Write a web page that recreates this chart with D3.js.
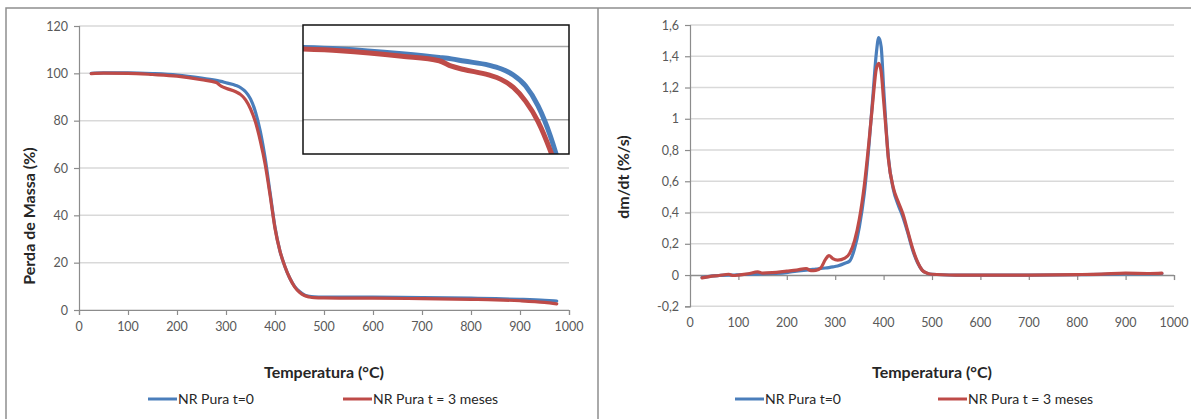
<!DOCTYPE html>
<html>
<head>
<meta charset="utf-8">
<script src="https://cdn.jsdelivr.net/npm/d3@7"></script>
<style>
  html, body { margin: 0; padding: 0; background: #fff; }
  svg { display: block; }
  text { font-family: Lato, "Open Sans", "DejaVu Sans", sans-serif; }
</style>
</head>
<body>
<svg id="chart" width="1191" height="419"></svg>
<script>
// ---- data ----
const seriesNames = ["NR Pura t=0", "NR Pura t = 3 meses"];
const seriesColors = ["#4a7ebb", "#be4b48"];

// Thermogravimetric curve (mass loss, %)
const tgaTemp  = [25, 50, 100, 150, 200, 250, 280, 290, 300, 320, 330, 340, 350, 360, 370, 380, 390, 400, 410, 420, 430, 440, 450, 460, 470, 480, 500, 600, 700, 800, 850, 900, 950, 975];
const tgaFresh = [100.0, 100.2, 100.2, 99.9, 99.3, 98.0, 97.0, 96.6, 96.0, 94.9, 93.9, 92.2, 89.2, 83.8, 75.5, 64.0, 49.5, 35.0, 25.0, 18.5, 13.5, 10.0, 7.8, 6.4, 5.8, 5.6, 5.5, 5.4, 5.2, 5.0, 4.8, 4.5, 4.1, 3.8];
const tgaAged  = [99.9, 100.1, 100.0, 99.5, 98.8, 97.3, 96.1, 94.6, 93.7, 92.2, 91.0, 88.8, 85.0, 79.5, 71.5, 61.5, 48.5, 34.5, 25.0, 18.5, 13.5, 9.8, 7.5, 6.1, 5.5, 5.2, 5.1, 5.0, 4.8, 4.5, 4.3, 3.9, 3.2, 2.6];

// Derivative curve (dm/dt, %/s)
const dtgTemp  = [25, 40, 60, 80, 90, 100, 120, 140, 150, 170, 200, 220, 240, 250, 260, 270, 280, 287, 295, 305, 320, 330, 340, 350, 360, 370, 378, 385, 390, 395, 400, 405, 410, 420, 430, 440, 450, 460, 470, 480, 490, 500, 550, 600, 700, 800, 850, 900, 950, 975];
const dtgFresh = [-0.015, -0.008, -0.003, 0.0, 0.0, 0.002, 0.004, 0.006, 0.007, 0.010, 0.016, 0.025, 0.032, 0.035, 0.038, 0.042, 0.045, 0.048, 0.052, 0.058, 0.075, 0.090, 0.170, 0.310, 0.520, 0.840, 1.150, 1.420, 1.520, 1.460, 1.200, 0.950, 0.750, 0.550, 0.450, 0.370, 0.270, 0.160, 0.080, 0.030, 0.012, 0.005, 0.0, -0.001, 0.0, 0.002, 0.004, 0.008, 0.008, 0.010];
const dtgAged  = [-0.018, -0.010, -0.003, 0.005, -0.003, 0.0, 0.008, 0.020, 0.012, 0.015, 0.025, 0.032, 0.042, 0.028, 0.030, 0.045, 0.100, 0.125, 0.105, 0.095, 0.108, 0.140, 0.220, 0.360, 0.570, 0.860, 1.120, 1.320, 1.355, 1.300, 1.120, 0.930, 0.740, 0.560, 0.470, 0.390, 0.280, 0.170, 0.085, 0.030, 0.012, 0.005, 0.0, -0.001, 0.0, 0.003, 0.006, 0.012, 0.010, 0.012];

const tempTicks = [0, 100, 200, 300, 400, 500, 600, 700, 800, 900, 1000];
const massTicks = [0, 20, 40, 60, 80, 100, 120];
const rateTicks = [-0.2, 0, 0.2, 0.4, 0.6, 0.8, 1, 1.2, 1.4, 1.6];
const insetTicks = [80, 100];

const axisTitleX = "Temperatura (°C)";
const massTitle = "Perda de Massa (%)";
const rateTitle = "dm/dt (%/s)";

// ---- drawing ----
const svg = d3.select("#chart");
const gridColor = "#d9d9d9";
const axisColor = "#8c8c8c";
const labelColor = "#595959";

// panel frames
svg.append("path")
  .attr("d", "M6,430 L6,8 L598,8 L598,430 M598,8 L1195,8")
  .attr("fill", "none").attr("stroke", "#8f8f8f").attr("stroke-width", 1.5);

const fmtRate = d => String(+d.toFixed(1)).replace(".", ",");

function panel(opt) {
  const g = svg.append("g");
  const x = d3.scaleLinear().domain([0, 1000]).range([opt.left, opt.right]);
  const y = d3.scaleLinear().domain(opt.yDomain).range([opt.bottom, opt.top]);

  // horizontal gridlines
  g.append("g").selectAll("line").data(opt.yTicks).join("line")
    .attr("x1", opt.left).attr("x2", opt.right)
    .attr("y1", d => y(d)).attr("y2", d => y(d))
    .attr("stroke", gridColor).attr("stroke-width", 1.5);

  // y axis
  const ya = g.append("g").attr("transform", `translate(${opt.left},0)`)
    .call(d3.axisLeft(y).tickValues(opt.yTicks).tickSize(5).tickPadding(6).tickFormat(opt.yFmt));
  ya.select(".domain").attr("stroke", axisColor).attr("stroke-width", 1.2);
  ya.selectAll(".tick line").attr("stroke", axisColor).attr("stroke-width", 1.2);
  ya.selectAll(".tick text").attr("fill", labelColor).style("font-size", "12.5px");

  // x axis line with ticks, sitting on value 0
  const xa = g.append("g").attr("transform", `translate(0,${y(0)})`)
    .call(d3.axisBottom(x).tickValues(tempTicks).tickSize(5).tickFormat(""));
  xa.select(".domain").attr("stroke", axisColor).attr("stroke-width", 1.2);
  xa.selectAll(".tick line").attr("stroke", axisColor).attr("stroke-width", 1.2);

  // x tick labels at the bottom of the plot
  g.append("g").selectAll("text").data(tempTicks).join("text")
    .attr("x", d => x(d)).attr("y", opt.bottom + 21)
    .attr("text-anchor", "middle").attr("fill", labelColor)
    .style("font-size", "12.5px").text(d => d);

  // titles
  g.append("text")
    .attr("x", (opt.left + opt.right) / 2).attr("y", 378)
    .attr("text-anchor", "middle").attr("fill", "#262626")
    .style("font-size", "16px").style("font-weight", "bold")
    .text(axisTitleX);
  g.append("text")
    .attr("transform", `translate(${opt.yTitleX},${opt.yTitleY}) rotate(-90)`)
    .attr("text-anchor", "middle").attr("fill", "#262626")
    .style("font-size", "16px").style("font-weight", "bold")
    .text(opt.yTitle);

  // series
  const line = d3.line().curve(d3.curveMonotoneX).x(d => x(d[0])).y(d => y(d[1]));
  opt.series.forEach((vals, i) => {
    g.append("path")
      .datum(opt.temps.map((t, k) => [t, vals[k]]))
      .attr("d", line)
      .attr("fill", "none").attr("stroke", seriesColors[i])
      .attr("stroke-width", 3.2).attr("stroke-linejoin", "round").attr("stroke-linecap", "round");
  });

  // legend
  seriesNames.forEach((name, i) => {
    const lx = opt.legendX[i];
    g.append("line")
      .attr("x1", lx).attr("x2", lx + 29).attr("y1", 399).attr("y2", 399)
      .attr("stroke", seriesColors[i]).attr("stroke-width", 3);
    g.append("text")
      .attr("x", lx + 30).attr("y", 404).attr("fill", "#262626")
      .style("font-size", "14px").text(name);
  });

  return { g, x, y };
}

// left: mass loss
panel({
  left: 79, right: 569, top: 26, bottom: 310,
  yDomain: [0, 120], yTicks: massTicks, yFmt: d => d,
  yTitle: massTitle, yTitleX: 35, yTitleY: 216,
  temps: tgaTemp, series: [tgaFresh, tgaAged],
  legendX: [148, 343]
});

// right: derivative
panel({
  left: 690, right: 1174, top: 25, bottom: 306.3,
  yDomain: [-0.2, 1.6], yTicks: rateTicks, yFmt: fmtRate,
  yTitle: rateTitle, yTitleX: 629, yTitleY: 177,
  temps: dtgTemp, series: [dtgFresh, dtgAged],
  legendX: [735, 938]
});

// inset: enlarged view of the onset of degradation
const box = { x0: 303, y0: 25, x1: 569, y1: 154 };
const ix = d3.scaleLinear().domain([170, 385]).range([box.x0, box.x1]);
const iy = d3.scaleLinear().domain([80, 100]).range([119.7, 46.4]);
const inset = svg.append("g");
inset.append("rect")
  .attr("x", box.x0).attr("y", box.y0)
  .attr("width", box.x1 - box.x0).attr("height", box.y1 - box.y0)
  .attr("fill", "#fff");
svg.append("defs").append("clipPath").attr("id", "insetClip")
  .append("rect").attr("x", box.x0).attr("y", box.y0)
  .attr("width", box.x1 - box.x0).attr("height", box.y1 - box.y0);
inset.append("g").selectAll("line").data(insetTicks).join("line")
  .attr("x1", box.x0).attr("x2", box.x1)
  .attr("y1", d => iy(d)).attr("y2", d => iy(d))
  .attr("stroke", "#a6a6a6").attr("stroke-width", 1.5);
const iline = d3.line().curve(d3.curveMonotoneX).x(d => ix(d[0])).y(d => iy(d[1]));
const inner = inset.append("g").attr("clip-path", "url(#insetClip)");
[tgaFresh, tgaAged].forEach((vals, i) => {
  inner.append("path")
    .datum(tgaTemp.map((t, k) => [t, vals[k]]))
    .attr("d", iline)
    .attr("fill", "none").attr("stroke", seriesColors[i])
    .attr("stroke-width", 5).attr("stroke-linejoin", "round");
});
inset.append("rect")
  .attr("x", box.x0).attr("y", box.y0)
  .attr("width", box.x1 - box.x0).attr("height", box.y1 - box.y0)
  .attr("fill", "none").attr("stroke", "#111").attr("stroke-width", 1.5);
</script>
</body>
</html>
